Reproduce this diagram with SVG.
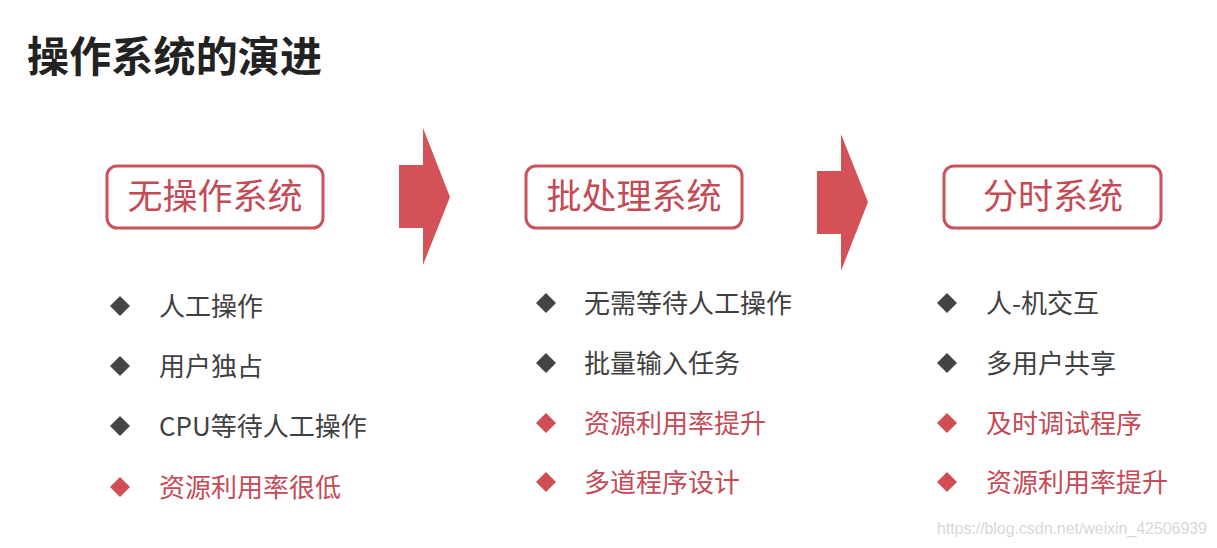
<svg xmlns="http://www.w3.org/2000/svg" width="1217" height="548" viewBox="0 0 1217 548">
<style>
.title{font-family:"Noto Sans CJK SC","Noto Sans",sans-serif;font-weight:bold;font-size:42px;fill:#222}
.box{fill:#fff;stroke:#c9525b;stroke-width:3}
.boxt{font-family:"Noto Sans CJK SC","Noto Sans",sans-serif;font-size:35px;fill:#c44a55;text-anchor:middle}
.it{font-family:"Noto Sans CJK SC","Noto Sans",sans-serif;font-size:26px;fill:#404040}
.itr{font-family:"Noto Sans CJK SC","Noto Sans",sans-serif;font-size:26px;fill:#c44a55}
.dk{fill:#444}
.rd{fill:#d04d55}
.arrow{fill:#d45257}
.wm{font-family:"Liberation Sans",Arial,sans-serif;font-size:16px;fill:#d8d8d8}
</style>
<defs>
<polygon id="dia" points="0,-10 10,0 0,10 -10,0"/>
</defs>
<rect width="1217" height="548" fill="#fff"/>
<text class="title" x="27" y="72" textLength="295">操作系统的演进</text>

<g id="connectors">
<polygon class="arrow" points="399,165 423,165 423,128 450,197 423,265 423,228 399,228"/>
<polygon class="arrow" points="817,171 841,171 841,134 868,202 841,271 841,234 817,234"/>
</g>

<g id="node-no-os">
<rect class="box" x="107" y="166" width="216" height="62" rx="10"/>
<text class="boxt" x="215" y="209">无操作系统</text>
<use href="#dia" class="dk" x="120" y="306"/>
<text class="it" x="159" y="316">人工操作</text>
<use href="#dia" class="dk" x="120" y="366"/>
<text class="it" x="159" y="376">用户独占</text>
<use href="#dia" class="dk" x="120" y="426"/>
<text class="it" x="159" y="436">CPU等待人工操作</text>
<use href="#dia" class="rd" x="120" y="487"/>
<text class="itr" x="159" y="497">资源利用率很低</text>
</g>

<g id="node-batch">
<rect class="box" x="526" y="166" width="216" height="62" rx="10"/>
<text class="boxt" x="634" y="209">批处理系统</text>
<use href="#dia" class="dk" x="546" y="303"/>
<text class="it" x="584" y="313">无需等待人工操作</text>
<use href="#dia" class="dk" x="546" y="363"/>
<text class="it" x="584" y="373">批量输入任务</text>
<use href="#dia" class="rd" x="546" y="423"/>
<text class="itr" x="584" y="433">资源利用率提升</text>
<use href="#dia" class="rd" x="546" y="482"/>
<text class="itr" x="584" y="492">多道程序设计</text>
</g>

<g id="node-timeshare">
<rect class="box" x="944" y="166" width="217" height="62" rx="10"/>
<text class="boxt" x="1053" y="209">分时系统</text>
<use href="#dia" class="dk" x="947" y="303"/>
<text class="it" x="986" y="313">人-机交互</text>
<use href="#dia" class="dk" x="947" y="363"/>
<text class="it" x="986" y="373">多用户共享</text>
<use href="#dia" class="rd" x="947" y="423"/>
<text class="itr" x="986" y="433">及时调试程序</text>
<use href="#dia" class="rd" x="947" y="482"/>
<text class="itr" x="986" y="492">资源利用率提升</text>
</g>

<text class="wm" x="937" y="534" textLength="270">https://blog.csdn.net/weixin_42506939</text>
</svg>
